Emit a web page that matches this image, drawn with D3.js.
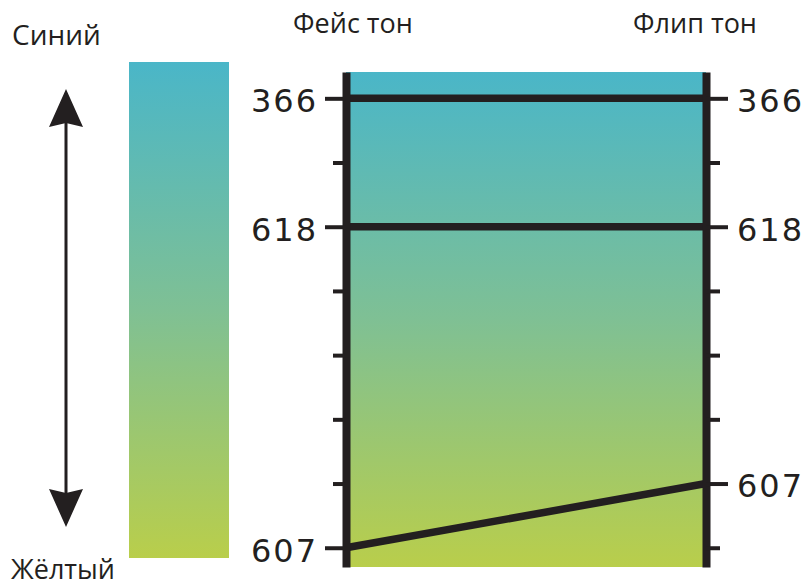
<!DOCTYPE html>
<html><head><meta charset="utf-8">
<script src="https://cdn.jsdelivr.net/npm/d3@7/dist/d3.min.js"></script>
<style>body{margin:0;background:#fff}svg{display:block}</style>
</head><body>
<svg id="c" width="806" height="586"></svg>
<script>
// ---- data ----
const categories = ["Фейс тон", "Флип тон"];
const scaleLabels = ["Синий", "Жёлтый"];
const tickPositions = [0, 1, 2, 3, 4, 5, 6, 7];
const seriesNames = ["366", "618", "607"];
const faceRank = [0, 2, 7];
const flipRank = [0, 2, 6];
const gradientColors = ["#4ab6c8", "#7fc094", "#b9ce4b"];

// ---- chart ----
const svg = d3.select("#c");
const ink = "#231f20";

const x = d3.scalePoint().domain(categories).range([346, 706]);
const y = d3.scaleLinear().domain([-0.41, 7.3]).range([72, 567]);

const defs = svg.append("defs");
const grad = defs.append("linearGradient").attr("id", "g")
  .attr("x1", 0).attr("y1", 0).attr("x2", 0).attr("y2", 1);
gradientColors.forEach((c, i) => grad.append("stop")
  .attr("offset", i / (gradientColors.length - 1)).attr("stop-color", c));

// legend gradient bar
svg.append("rect").attr("x", 129).attr("y", 62).attr("width", 100).attr("height", 496)
  .attr("fill", "url(#g)");

// double arrow
svg.append("line").attr("x1", 66).attr("x2", 66).attr("y1", 122).attr("y2", 494)
  .attr("stroke", ink).attr("stroke-width", 3);
svg.append("path").attr("d", "M66,89 L83,127 L66,123 L49,127 Z").attr("fill", ink);
svg.append("path").attr("d", "M66,527 L83,489 L66,493 L49,489 Z").attr("fill", ink);

svg.append("text").attr("x", 12).attr("y", 45).text(scaleLabels[0])
  .attr("font-family", "Open Sans").attr("font-size", 28).attr("fill", ink);
svg.append("text").attr("x", 11).attr("y", 579).text(scaleLabels[1])
  .attr("font-family", "Open Sans").attr("font-size", 27).attr("fill", ink);

// panel gradient
svg.append("rect").attr("x", x(categories[0])).attr("y", y(-0.41))
  .attr("width", x(categories[1]) - x(categories[0])).attr("height", y(7.3) - y(-0.41))
  .attr("fill", "url(#g)");

// slope lines
svg.append("g").selectAll("line").data(seriesNames).join("line")
  .attr("x1", x(categories[0])).attr("x2", x(categories[1]))
  .attr("y1", (d, i) => y(faceRank[i])).attr("y2", (d, i) => y(flipRank[i]))
  .attr("stroke", ink).attr("stroke-width", 7.5);

// axes
function labelFor(rank, ranks) {
  const i = ranks.indexOf(rank);
  return i >= 0 ? seriesNames[i] : "";
}
function styleAxis(g, ranks, major, minor, side) {
  g.select(".domain").attr("stroke", ink).attr("stroke-width", 8);
  g.selectAll(".tick line").attr("stroke", ink).attr("stroke-width", 4)
    .attr("x2", d => side * (labelFor(d, ranks) ? major : minor));
  g.selectAll(".tick text")
    .attr("font-family", "DejaVu Sans").attr("font-size", 32).attr("fill", ink)
    .attr("letter-spacing", 2).attr("dy", "0.42em");
}
const leftAxis = d3.axisLeft(y).tickValues(tickPositions).tickSizeInner(21).tickSizeOuter(0)
  .tickPadding(7).tickFormat(d => labelFor(d, faceRank));
svg.append("g").attr("transform", `translate(${x(categories[0])},0)`).call(leftAxis)
  .call(g => styleAxis(g, faceRank, 21, 13, -1));
const rightAxis = d3.axisRight(y).tickValues(tickPositions).tickSizeInner(22).tickSizeOuter(0)
  .tickPadding(9).tickFormat(d => labelFor(d, flipRank));
svg.append("g").attr("transform", `translate(${x(categories[1])},0)`).call(rightAxis)
  .call(g => styleAxis(g, flipRank, 22, 14, 1));

// column titles
svg.selectAll("text.title").data(categories).join("text").attr("class", "title")
  .attr("x", (d, i) => x(d) + (i === 0 ? 7 : -11)).attr("y", 33)
  .attr("text-anchor", "middle").text(d => d)
  .attr("font-family", "Open Sans").attr("font-size", 27).attr("fill", ink);
</script>
</body></html>
